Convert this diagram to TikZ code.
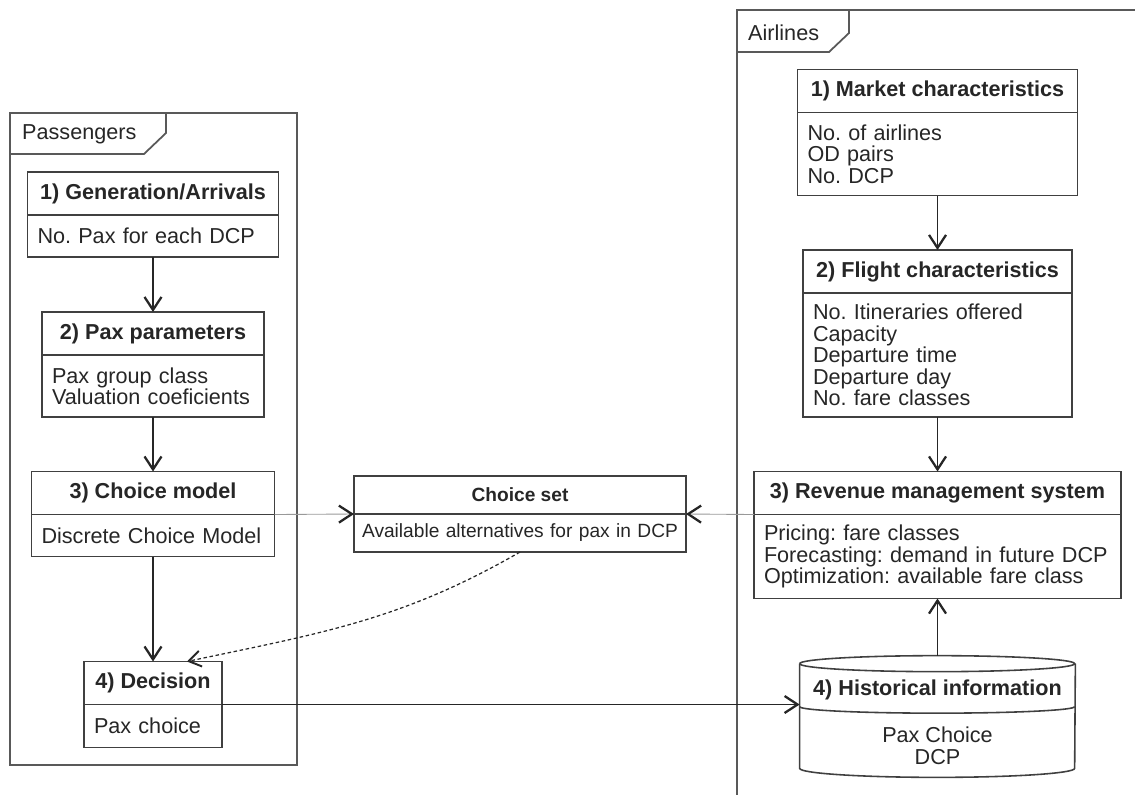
\documentclass[tikz,border=0pt]{standalone}
\usepackage{fontspec}
\setmainfont{Liberation Sans}
\usetikzlibrary{arrows.meta, positioning}
\frenchspacing

\begin{document}
\begin{tikzpicture}[
    every node/.style={text=black!85, font=\fontsize{12.3}{12.2}\selectfont},
    head/.style={draw=black!75, line width=0.9pt, outer sep=0pt, inner sep=0pt,
                 minimum height=0.86cm, font=\bfseries\fontsize{12.3}{12.2}\selectfont},
    body/.style={draw=black!75, line width=0.9pt, outer sep=0pt, align=left,
                 inner xsep=0.2cm, inner ysep=0pt},
    frame/.style={draw=black!65, line width=1pt},
    flow/.style={draw=black!85, line width=1.1pt,
                 -{Straight Barb[length=2.6mm,width=3.4mm,line width=1.3pt]}},
    feed/.style={draw=black!40, line width=0.5pt,
                 -{Straight Barb[length=2.6mm,width=3.4mm,line width=1.3pt,color=black!85]}}
  ]
        \useasboundingbox (0,0) rectangle (22.7,-15.9);

        % Passengers frame with its tab
        \draw[frame] (0.20,-2.26) rectangle (5.94,-15.30);
        \draw[frame] (0.20,-3.08) -- (2.88,-3.08) -- (3.32,-2.66) -- (3.32,-2.26);
        \node[anchor=west] (paxlbl) at (0.32,-2.68) {Passengers};

        % Airlines frame (runs off the page on the right and bottom)
        \draw[frame] (22.7,-0.20) -- (14.74,-0.20) -- (14.74,-15.9);
        \draw[frame] (14.74,-1.04) -- (16.58,-1.04) -- (16.98,-0.66) -- (16.98,-0.20);
        \node[anchor=west] (airlbl) at (14.84,-0.66) {Airlines};

        % Passenger side boxes
        \node[head, minimum width=5.02cm] (g1h) at (3.06,-3.87) {1) Generation/Arrivals};
        \node[body, text width=4.62cm, minimum height=0.84cm, below=0pt of g1h] (g1b) {No. Pax for each DCP};

        \node[head, minimum width=4.44cm] (p2h) at (3.06,-6.67) {2) Pax parameters};
        \node[body, text width=4.04cm, minimum height=1.24cm, below=0pt of p2h] (p2b) {Pax group class\\Valuation coeficients};

        \node[head, minimum width=4.86cm] (c3h) at (3.06,-9.86) {3) Choice model};
        \node[body, text width=4.46cm, minimum height=0.84cm, below=0pt of c3h] (c3b) {Discrete Choice Model};

        \node[head, minimum width=2.76cm] (d4h) at (3.06,-13.66) {4) Decision};
        \node[body, text width=2.36cm, minimum height=0.86cm, below=0pt of d4h] (d4b) {Pax choice};

        % Choice set in the middle
        \node[head, minimum width=6.64cm, minimum height=0.76cm,
              font=\bfseries\fontsize{10.9}{11}\selectfont] (csh) at (10.40,-9.90) {Choice set};
        \node[body, text width=6.40cm, minimum height=0.76cm, align=center, inner xsep=0.12cm,
              font=\fontsize{10.9}{11}\selectfont, below=0pt of csh] (csb) {Available alternatives for pax in DCP};

        % Airline side boxes
        \node[head, minimum width=5.60cm] (m1h) at (18.75,-1.82) {1) Market characteristics};
        \node[body, text width=5.20cm, minimum height=1.66cm, below=0pt of m1h] (m1b) {No. of airlines\\OD pairs\\No. DCP};

        \node[head, minimum width=5.38cm] (f2h) at (18.75,-5.43) {2) Flight characteristics};
        \node[body, text width=4.98cm, minimum height=2.48cm, below=0pt of f2h] (f2b) {No. Itineraries offered\\Capacity\\Departure time\\Departure day\\No. fare classes};

        \node[head, minimum width=7.34cm] (r3h) at (18.75,-9.86) {3) Revenue management system};
        \node[body, text width=6.94cm, minimum height=1.68cm, inner xsep=0.2cm, below=0pt of r3h] (r3b) {Pricing: fare classes\\Forecasting: demand in future DCP\\Optimization: available fare class};

        % Historical information database (cylinder)
        \node[minimum width=5.5cm, minimum height=2.08cm, inner sep=0pt] (hist) at (18.75,-14.32) {};
        \draw[draw=black!75, line width=0.9pt] (hist.north west) arc[start angle=180, end angle=-180, x radius=2.75cm, y radius=0.16cm];
        \draw[draw=black!75, line width=0.9pt] (hist.north west) -- (hist.south west)
            arc[start angle=180, end angle=360, x radius=2.75cm, y radius=0.18cm] -- (hist.north east);
        \draw[draw=black!75, line width=0.9pt] ([yshift=-0.86cm]hist.north west)
            arc[start angle=180, end angle=360, x radius=2.75cm, y radius=0.13cm];
        \node[font=\bfseries\fontsize{12.3}{12.2}\selectfont] (histh) at ([yshift=-0.52cm]hist.north) {4) Historical information};
        \node[align=center] (histb) at ([yshift=-1.64cm]hist.north) {Pax Choice\\DCP};

        % Passenger flow
        \draw[flow] (g1b.south) -- (p2h.north);
        \draw[flow] (p2b.south) -- (c3h.north);
        \draw[flow] (c3b.south) -- (d4h.north);

        % Airline flow
        \draw[flow] (m1b.south) -- (f2h.north);
        \draw[flow] (f2b.south) -- (r3h.north);
        \draw[flow] ([yshift=0.16cm]hist.north) -- (r3b.south);

        % Into the choice set and back to the decision
        \draw[feed] (c3h.south east) -- (csh.south west);
        \draw[feed] (r3h.south west) -- (csh.south east);
        \draw[draw=black!85, line width=0.7pt, dash pattern=on 2pt off 1.5pt,
              -{Straight Barb[length=2.4mm,width=3.2mm,line width=1.1pt]}]
            (csb.south) to[out=210, in=12] ([xshift=0.68cm]d4h.north);

        % Decision stored as history
        \draw[flow] (d4h.south east) -- (d4h.south east -| hist.west);
    \end{tikzpicture}
\end{document}
